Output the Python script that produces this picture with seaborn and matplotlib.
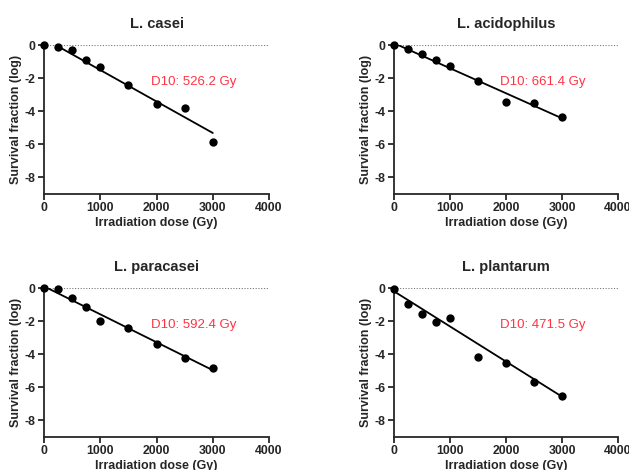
import numpy as np
import pandas as pd
import matplotlib
matplotlib.use("Agg")
import matplotlib.pyplot as plt
import seaborn as sns

sns.set_style("ticks")
plt.rcParams['font.family'] = ['Liberation Sans', 'DejaVu Sans']
plt.rcParams['axes.unicode_minus'] = False

# Data
strains = ["L. casei", "L. acidophilus", "L. paracasei", "L. plantarum"]
dose = [0, 250, 500, 750, 1000, 1500, 2000, 2500, 3000]
casei = [0.0, -0.10, -0.32, -0.90, -1.35, -2.40, -3.58, -3.78, -5.84]
acidophilus = [0.0, -0.26, -0.56, -0.93, -1.25, -2.16, -3.43, -3.51, -4.37]
paracasei = [0.0, -0.08, -0.58, -1.17, -2.02, -2.44, -3.39, -4.23, -4.84]
plantarum = [-0.04, -0.95, -1.57, -2.08, -1.79, -4.15, -4.51, -5.68, -6.51]
series = [casei, acidophilus, paracasei, plantarum]
# fit parameters: D10 (Gy) and intercept (log)
d10 = [526.2, 661.4, 592.4, 471.5]
intercepts = [0.39, 0.11, 0.10, -0.20]
fit_end = 3000

fig = plt.figure(figsize=(6.29, 4.70), dpi=100)
positions = [
    [0.070, 0.5872, 0.3577, 0.3170],
    [0.6264, 0.5872, 0.3561, 0.3170],
    [0.070, 0.0702, 0.3577, 0.3170],
    [0.6264, 0.0702, 0.3561, 0.3170],
]

for name, vals, D, b, pos in zip(strains, series, d10, intercepts, positions):
    ax = fig.add_axes(pos)
    df = pd.DataFrame({"dose": dose, "sf": vals})
    ax.axhline(0, color="#777777", lw=0.8, ls=(0, (1, 1.5)), zorder=1)
    x0 = max(0.0, b * D)
    xf = np.linspace(x0, fit_end, 50)
    fit = pd.DataFrame({"dose": xf, "sf": b - xf / D})
    sns.lineplot(data=fit, x="dose", y="sf", ax=ax, color="black", lw=1.3, zorder=2)
    sns.scatterplot(data=df, x="dose", y="sf", ax=ax, color="black", s=36,
                    edgecolor="black", linewidth=0, zorder=3, clip_on=False)
    ax.set_xlim(0, 4000)
    ax.set_ylim(-9, 0)
    ax.set_xticks([0, 1000, 2000, 3000, 4000])
    ax.set_yticks([0, -2, -4, -6, -8])
    ax.set_xticklabels(["0", "1000", "2000", "3000", "4000"], fontweight="bold", fontsize=8.8)
    ax.set_yticklabels(["0", "-2", "-4", "-6", "-8"], fontweight="bold", fontsize=8.8)
    ax.set_xlabel("Irradiation dose (Gy)", fontweight="bold", fontsize=9, labelpad=2)
    ax.set_ylabel("Survival fraction (log)", fontweight="bold", fontsize=9, labelpad=2)
    ax.set_title(name, fontweight="bold", fontsize=10.5, pad=12)
    ax.text(1900, -2.25, f"D10: {D} Gy", color="#FF3344", fontsize=9.5,
            ha="left", va="center")
    for s in ["top", "right"]:
        ax.spines[s].set_visible(False)
    for s in ["left", "bottom"]:
        ax.spines[s].set_linewidth(1.3)
    ax.tick_params(width=1.3, length=4, direction="out", pad=2)

fig.savefig("out.png", dpi=100)
